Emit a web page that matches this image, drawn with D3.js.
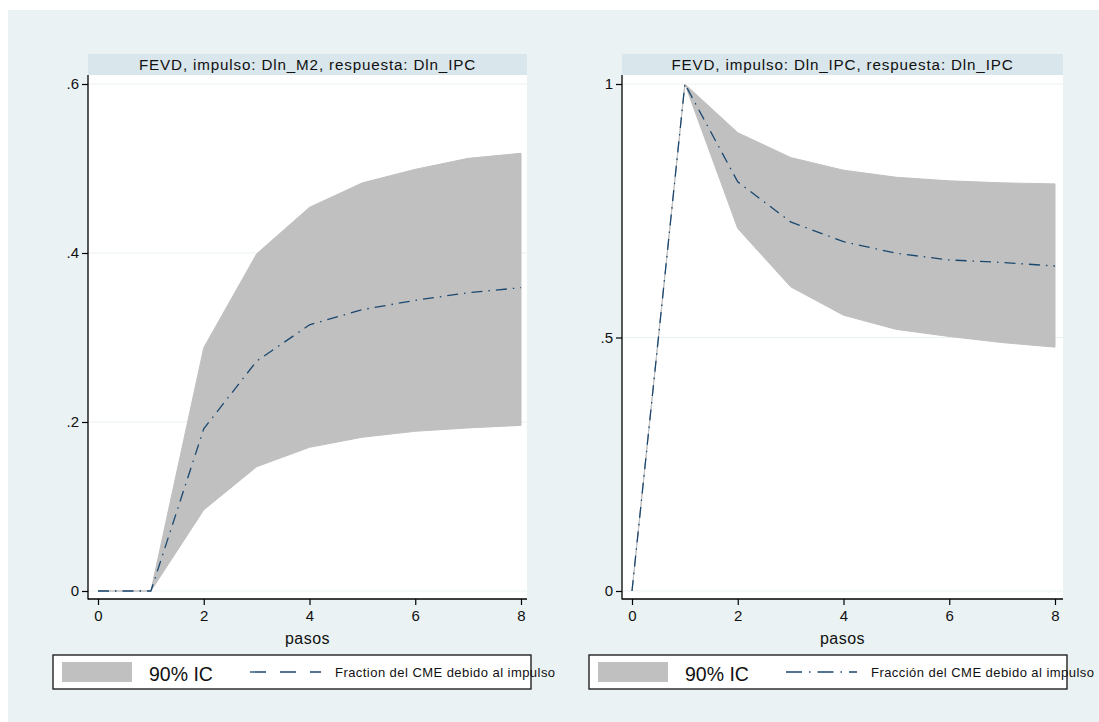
<!DOCTYPE html>
<html><head><meta charset="utf-8">
<script src="https://cdn.jsdelivr.net/npm/d3@7"></script>
<style>
html,body{margin:0;padding:0;background:#fff;}
text{font-family:"Liberation Sans",Arial,sans-serif;}
</style></head>
<body>
<svg id="chart" width="1099" height="722"></svg>
<script>
const steps = [0,1,2,3,4,5,6,7,8];
const xTicks = [0,2,4,6,8];

const m2Lower = [0,0,0.096,0.147,0.170,0.182,0.189,0.193,0.196];
const m2Upper = [0,0,0.288,0.399,0.454,0.483,0.499,0.512,0.518];
const m2Fevd  = [0,0,0.192,0.272,0.315,0.333,0.344,0.353,0.359];
const m2YTicks = [0,0.2,0.4,0.6];
const m2YLabels = ["0",".2",".4",".6"];

const ipcLower = [0,1,0.715,0.600,0.544,0.516,0.502,0.490,0.481];
const ipcUpper = [0,1,0.904,0.855,0.830,0.816,0.809,0.805,0.803];
const ipcFevd  = [0,1,0.807,0.728,0.689,0.666,0.653,0.648,0.641];
const ipcYTicks = [0,0.5,1];
const ipcYLabels = ["0",".5","1"];

const titles = ["FEVD, impulso: Dln_M2, respuesta: Dln_IPC","FEVD, impulso: Dln_IPC, respuesta: Dln_IPC"];
const xTitle = "pasos";
const ciLabel = "90% IC";
const lineLabels = ["Fraction del CME debido al impulso","Fracción del CME debido al impulso"];

const svg = d3.select("#chart");
svg.append("rect").attr("x",8).attr("y",10).attr("width",1091).attr("height",712).attr("fill","#eaf2f3");

const navy = "#1a476f";
const band = "#c0c0c0";

function panel(o){
  const g = svg.append("g");
  const x = d3.scaleLinear().domain([0,8]).range([o.x0ref, o.x8ref]);
  const y = d3.scaleLinear().domain([0,o.yTopVal]).range([591,84]);
  const left = o.left, right = o.right, top = 75, bottom = 599;
  g.append("rect").attr("x",left).attr("y",54).attr("width",right-left).attr("height",21).attr("fill","#d9e6eb");
  g.append("text").attr("x",(left+right)/2).attr("y",70).attr("text-anchor","middle")
    .attr("font-size",15.2).attr("letter-spacing","0.85px").attr("fill","#111").text(o.title);
  g.append("rect").attr("x",left).attr("y",top).attr("width",right-left).attr("height",bottom-top).attr("fill","#fff");
  g.selectAll(".grid").data(o.yTicks).enter().append("line")
    .attr("x1",left).attr("x2",right).attr("y1",d=>y(d)).attr("y2",d=>y(d))
    .attr("stroke","#eaf2f3").attr("stroke-width",1.2);
  const area = d3.area().x((d,i)=>x(steps[i])).y0((d,i)=>y(o.lower[i])).y1((d,i)=>y(o.upper[i]));
  g.append("path").datum(steps).attr("d",area).attr("fill",band).attr("stroke",band).attr("stroke-width",1);
  const line = d3.line().x((d,i)=>x(steps[i])).y((d,i)=>y(o.mean[i]));
  g.append("path").datum(steps).attr("d",line).attr("fill","none").attr("stroke",navy)
    .attr("stroke-width",1.3).attr("stroke-dasharray","11,6,1.5,6");
  const yAxis = d3.axisLeft(y).tickValues(o.yTicks).tickFormat((d,i)=>o.yLabels[i]).tickSize(6).tickPadding(3);
  const ya = g.append("g").attr("transform",`translate(${left},0)`).call(yAxis);
  ya.select(".domain").remove();
  g.append("line").attr("x1",left).attr("x2",left).attr("y1",top).attr("y2",bottom+0.5).attr("stroke","#000").attr("stroke-width",1.3);
  const xAxis = d3.axisBottom(x).tickValues(xTicks).tickFormat(d3.format("d")).tickSize(6).tickPadding(5);
  const xa = g.append("g").attr("transform",`translate(0,${bottom})`).call(xAxis);
  xa.select(".domain").remove();
  g.append("line").attr("x1",left).attr("x2",right).attr("y1",bottom).attr("y2",bottom).attr("stroke","#000").attr("stroke-width",1.3);
  [ya,xa].forEach(a=>{
    a.selectAll(".tick line").attr("stroke","#000").attr("stroke-width",1.2);
    a.selectAll(".tick text").attr("font-size",15).attr("fill","#111").attr("font-family","Liberation Sans, Arial, sans-serif");
  });
  g.append("text").attr("x",(left+right)/2).attr("y",644).attr("text-anchor","middle")
    .attr("font-size",16).attr("letter-spacing","0.5px").attr("fill","#111").text(xTitle);
  const lx = o.legX;
  g.append("rect").attr("x",lx).attr("y",655).attr("width",478).attr("height",34)
    .attr("fill","#fff").attr("stroke","#222").attr("stroke-width",1.4);
  g.append("rect").attr("x",lx+9).attr("y",662).attr("width",70).attr("height",20).attr("fill",band);
  g.append("text").attr("x",lx+96).attr("y",681).attr("font-size",19.5).attr("fill","#111").text(ciLabel);
  g.append("line").attr("x1",lx+197).attr("x2",lx+268).attr("y1",672).attr("y2",672)
    .attr("stroke",navy).attr("stroke-width",1.3).attr("stroke-dasharray",o.legDash);
  g.append("text").attr("x",lx+282).attr("y",677).attr("font-size",13).attr("letter-spacing","0.45px")
    .attr("fill","#111").text(o.lineLabel);
}

panel({left:88,right:527,x0ref:98,x8ref:521,yTopVal:0.6,yTicks:m2YTicks,yLabels:m2YLabels,
  lower:m2Lower,upper:m2Upper,mean:m2Fevd,title:titles[0],legX:53,legDash:"16,14",lineLabel:lineLabels[0]});
panel({left:622,right:1063,x0ref:632,x8ref:1055,yTopVal:1,yTicks:ipcYTicks,yLabels:ipcYLabels,
  lower:ipcLower,upper:ipcUpper,mean:ipcFevd,title:titles[1],legX:589,legDash:"16,7,1.5,7",lineLabel:lineLabels[1]});
</script>
</body></html>
